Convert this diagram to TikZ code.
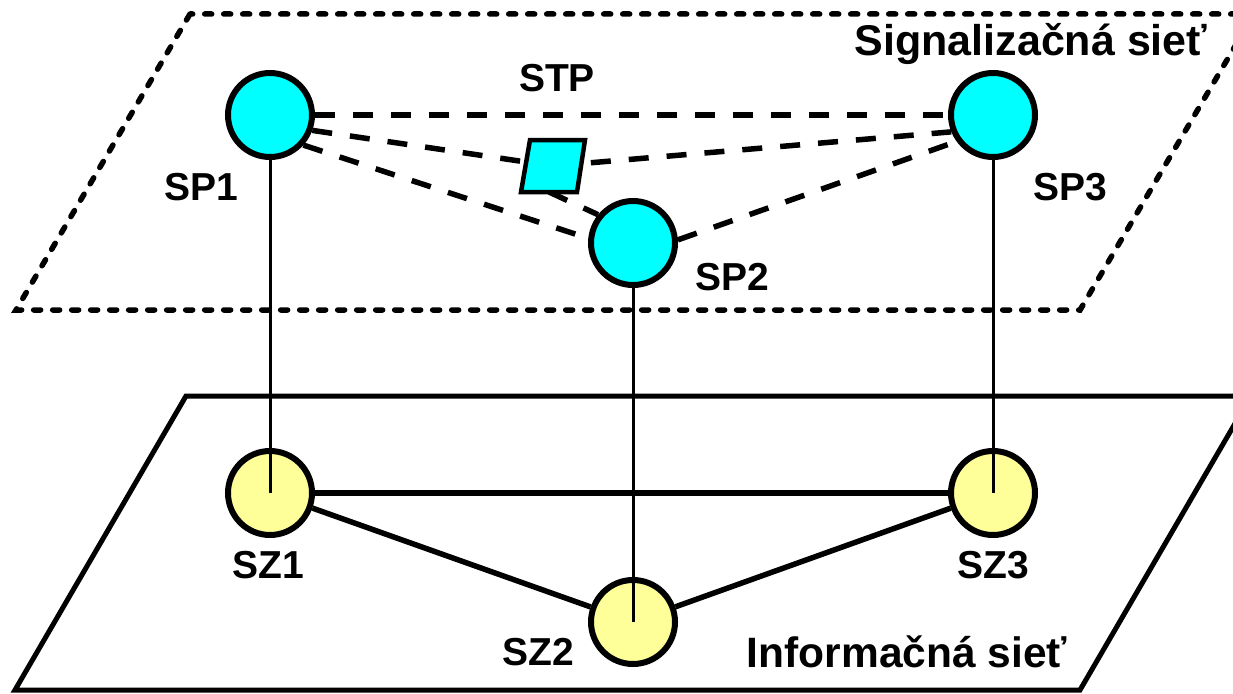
\documentclass[tikz,border=0pt]{standalone}
\usepackage{fontspec}
\setmainfont{Liberation Sans}
\definecolor{spcyan}{RGB}{0,255,255}
\definecolor{szyellow}{RGB}{255,255,153}
\begin{document}
\begin{tikzpicture}[x=1pt,y=-1pt,
  spnode/.style={circle,draw=black,line width=6pt,fill=spcyan,minimum size=84pt,inner sep=0pt},
  sznode/.style={circle,draw=black,line width=6pt,fill=szyellow,minimum size=84pt,inner sep=0pt},
  lbl/.style={font=\fontsize{39}{40}\selectfont\bfseries,inner sep=0pt,anchor=base},
  ttl/.style={font=\fontsize{42.5}{44}\selectfont\bfseries,inner sep=0pt,anchor=base},
  sigline/.style={line width=5.5pt,dash pattern=on 20pt off 18pt},
  infline/.style={line width=5.5pt},
  vline/.style={line width=3pt},
  plane/.style={line width=5pt,line join=miter},
  dotplane/.style={line width=5.5pt,line cap=round,dash pattern=on 7pt off 12pt}]
\useasboundingbox (0,0) rectangle (1233,693);
\clip (0,0) rectangle (1233,693);
% planes
\draw[plane] (186,396) -- (15,690) -- (1080,690) -- (1251,396) -- cycle;
\draw[dotplane] (190,14) -- (16,310) -- (1080,310) -- (1254,14) -- cycle;
% nodes
\node[spnode] (SP1) at (270,115) {};
\node[spnode] (SP2) at (633,243) {};
\node[spnode] (SP3) at (993,115) {};
\node[sznode] (SZ1) at (270,493) {};
\node[sznode] (SZ2) at (633,622) {};
\node[sznode] (SZ3) at (993,493) {};
\coordinate (STP) at (553,166);
\coordinate (STPs) at (549,192);
% signalling links
\draw[sigline] (SP1.0) -- (SP3.180);
\draw[sigline] (SP1.-20) -- (STP);
\draw[sigline] (STP) -- (SP3.202);
\draw[sigline] (SP1.-42) -- (SP2.174);
\draw[sigline] (SP2.4) -- (SP3.216);
\draw[sigline] (STPs) -- (SP2.141);
% STP shape
\draw[line width=4.5pt,fill=spcyan,line join=miter] (521,192) -- (530,140) -- (585,140) -- (577,192) -- cycle;
% information links
\draw[infline] (SZ1) -- (SZ3);
\draw[infline] (SZ1) -- (SZ2);
\draw[infline] (SZ2) -- (SZ3);
% vertical links
\draw[vline] (SP1) -- (SZ1.center);
\draw[vline] (SP2) -- (SZ2.center);
\draw[vline] (SP3) -- (SZ3.center);
% labels
\node[lbl] (tSTP) at (557,92) {STP};
\node[lbl] (tSP1) at (201,200) {SP1};
\node[lbl] (tSP2) at (732,290) {SP2};
\node[lbl] (tSP3) at (1070,200) {SP3};
\node[lbl] (tSZ1) at (268,578) {SZ1};
\node[lbl] (tSZ2) at (538,665) {SZ2};
\node[lbl] (tSZ3) at (993,578) {SZ3};
\node[ttl,font=\fontsize{43}{45}\selectfont\bfseries] (tsig) at (1031,56) {Signalizačná sieť};
\node[ttl] (tinf) at (907,667) {Informačná sieť};
\end{tikzpicture}
\end{document}
